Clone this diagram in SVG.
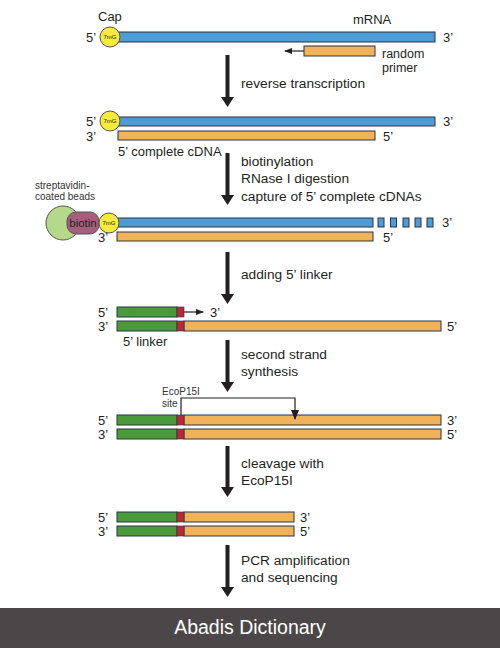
<svg xmlns="http://www.w3.org/2000/svg" width="500" height="648" viewBox="0 0 500 648">
<defs>
<style>
text{font-family:"Liberation Sans",Arial,sans-serif;fill:#231f20}
.lab{font-size:13.7px}
.end{font-size:13px}
.sm{font-size:10px;fill:#333}
.cap{font-size:6px}
.rna{fill:#4f9bd6;stroke:#2b3440;stroke-width:1}
.dna{fill:#f0b35a;stroke:#2b3440;stroke-width:1}
.lnk{fill:#4a9a3c;stroke:#2b3440;stroke-width:1}
.site{fill:#b8283a;stroke:#2b3440;stroke-width:0.6}
.capc{fill:#f6ea3c;stroke:#555;stroke-width:1}
.big{stroke:#231f20;stroke-width:4}
.thin{stroke:#231f20;stroke-width:1.2;fill:none}
</style>
<marker id="ah" markerWidth="8" markerHeight="6" refX="7" refY="3" orient="auto" markerUnits="userSpaceOnUse">
<path d="M0,0 L8,3 L0,6 Z" fill="#231f20"/>
</marker>
<marker id="ah2" markerWidth="10" markerHeight="8" refX="9" refY="4" orient="auto" markerUnits="userSpaceOnUse">
<path d="M0,0 L10,4 L0,8 Z" fill="#231f20"/>
</marker>
</defs>
<rect width="500" height="648" fill="#fff"/>

<g id="connectors">
<line class="big" x1="227.5" y1="55" x2="227.5" y2="99"/><path d="M221,97 L234,97 L227.5,107 Z" fill="#231f20"/>
<line class="big" x1="227.5" y1="153" x2="227.5" y2="197"/><path d="M221,195 L234,195 L227.5,205 Z" fill="#231f20"/>
<line class="big" x1="227.5" y1="252" x2="227.5" y2="296"/><path d="M221,294 L234,294 L227.5,304 Z" fill="#231f20"/>
<line class="big" x1="227.5" y1="340" x2="227.5" y2="384"/><path d="M221,382 L234,382 L227.5,392 Z" fill="#231f20"/>
<line class="big" x1="227.5" y1="446" x2="227.5" y2="489"/><path d="M221,487 L234,487 L227.5,497 Z" fill="#231f20"/>
<line class="big" x1="227.5" y1="545" x2="227.5" y2="589"/><path d="M221,587 L234,587 L227.5,597 Z" fill="#231f20"/>
</g>

<g id="step-labels">
<text class="lab" x="241" y="88">reverse transcription</text>
<text class="lab" x="241" y="166">biotinylation</text>
<text class="lab" x="241" y="183">RNase I digestion</text>
<text class="lab" x="241" y="201">capture of 5’ complete cDNAs</text>
<text class="lab" x="241" y="279">adding 5’ linker</text>
<text class="lab" x="241" y="359">second strand</text>
<text class="lab" x="241" y="376">synthesis</text>
<text class="lab" x="241" y="468">cleavage with</text>
<text class="lab" x="241" y="485">EcoP15I</text>
<text class="lab" x="241" y="565">PCR amplification</text>
<text class="lab" x="241" y="582">and sequencing</text>
</g>

<g id="row1-mrna">
<text class="end" x="98" y="21" font-size="12">Cap</text>
<text class="end" x="353" y="24">mRNA</text>
<text class="end" x="86" y="42">5’</text>
<rect class="rna" x="118" y="32" width="317" height="10"/>
<text class="end" x="443" y="42">3’</text>
<circle class="capc" cx="110" cy="37" r="10"/>
<text class="cap" x="110" y="39" text-anchor="middle">7mG</text>
<rect class="dna" x="304" y="46" width="71" height="10"/>
<line class="thin" x1="304" y1="51" x2="285" y2="51" marker-end="url(#ah)"/>
<text x="382" y="58" font-size="12.5">random</text>
<text x="382" y="72" font-size="12.5">primer</text>
</g>

<g id="row2-cdna">
<text class="end" x="86" y="126">5’</text>
<text class="end" x="86" y="141">3’</text>
<rect class="rna" x="118" y="117" width="317" height="9"/>
<circle class="capc" cx="110" cy="121" r="10"/>
<text class="cap" x="110" y="123" text-anchor="middle">7mG</text>
<text class="end" x="443" y="126">3’</text>
<rect class="dna" x="118" y="131" width="257" height="9"/>
<text class="end" x="383" y="141">5’</text>
<text class="end" x="118" y="156">5’ complete cDNA</text>
</g>

<g id="row3-capture">
<text class="sm" x="35" y="189">streptavidin-</text>
<text class="sm" x="35" y="200">coated beads</text>
<circle cx="63" cy="223" r="17" fill="#b5d98a" stroke="#555" stroke-width="1"/>
<rect x="67" y="212" width="32" height="22" rx="9" fill="#a3607c" stroke="#555" stroke-width="1"/>
<text x="83" y="227" text-anchor="middle" font-size="11.5" fill="#3a2030">biotin</text>
<rect class="rna" x="118" y="218" width="255" height="9"/>
<rect class="rna" x="378" y="218" width="6" height="9"/>
<rect class="rna" x="390.5" y="218" width="6" height="9"/>
<rect class="rna" x="403" y="218" width="6" height="9"/>
<rect class="rna" x="415" y="218" width="6" height="9"/>
<rect class="rna" x="427" y="218" width="6" height="9"/>
<circle class="capc" cx="109" cy="223" r="10"/>
<text class="cap" x="109" y="225" text-anchor="middle">7mG</text>
<text class="end" x="442" y="227">3’</text>
<rect class="dna" x="117" y="232" width="256" height="9"/>
<text class="end" x="98" y="242">3’</text>
<text class="end" x="383" y="242">5’</text>
</g>

<g id="row4-linker">
<text class="end" x="98" y="317">5’</text>
<rect class="lnk" x="117" y="307" width="60" height="10"/>
<rect class="site" x="177" y="307" width="7" height="10"/>
<line class="thin" x1="184" y1="312" x2="203" y2="312" marker-end="url(#ah)"/>
<text class="end" x="210" y="317">3’</text>
<text class="end" x="98" y="331">3’</text>
<rect class="dna" x="184" y="321" width="257" height="10"/>
<rect class="lnk" x="117" y="321" width="60" height="10"/>
<rect class="site" x="177" y="321" width="7" height="10"/>
<text class="end" x="447" y="331">5’</text>
<text class="end" x="123" y="346">5’ linker</text>
</g>

<g id="row5-double">
<text class="end" x="98" y="425">5’</text>
<rect class="dna" x="184" y="415" width="257" height="10"/>
<rect class="lnk" x="117" y="415" width="60" height="10"/>
<rect class="site" x="177" y="415" width="7" height="10"/>
<text class="end" x="447" y="425">3’</text>
<text class="end" x="98" y="439">3’</text>
<rect class="dna" x="184" y="429" width="257" height="10"/>
<rect class="lnk" x="117" y="429" width="60" height="10"/>
<rect class="site" x="177" y="429" width="7" height="10"/>
<text class="end" x="447" y="439">5’</text>
<text class="sm" x="162" y="395">EcoP15I</text>
<text class="sm" x="162" y="407">site</text>
<polyline class="thin" points="181,415 181,398 295,398 295,419" marker-end="url(#ah2)"/>
</g>

<g id="row6-tags">
<text class="end" x="98" y="522">5’</text>
<rect class="dna" x="184" y="512" width="110" height="10"/>
<rect class="lnk" x="117" y="512" width="60" height="10"/>
<rect class="site" x="177" y="512" width="7" height="10"/>
<text class="end" x="300" y="522">3’</text>
<text class="end" x="98" y="536">3’</text>
<rect class="dna" x="184" y="526" width="110" height="10"/>
<rect class="lnk" x="117" y="526" width="60" height="10"/>
<rect class="site" x="177" y="526" width="7" height="10"/>
<text class="end" x="300" y="536">5’</text>
</g>

<g id="footer">
<rect x="0" y="608" width="500" height="40" fill="#4b4748"/>
<text x="250" y="634" text-anchor="middle" font-size="19.5" style="fill:#fff">Abadis Dictionary</text>
</g>
</svg>
